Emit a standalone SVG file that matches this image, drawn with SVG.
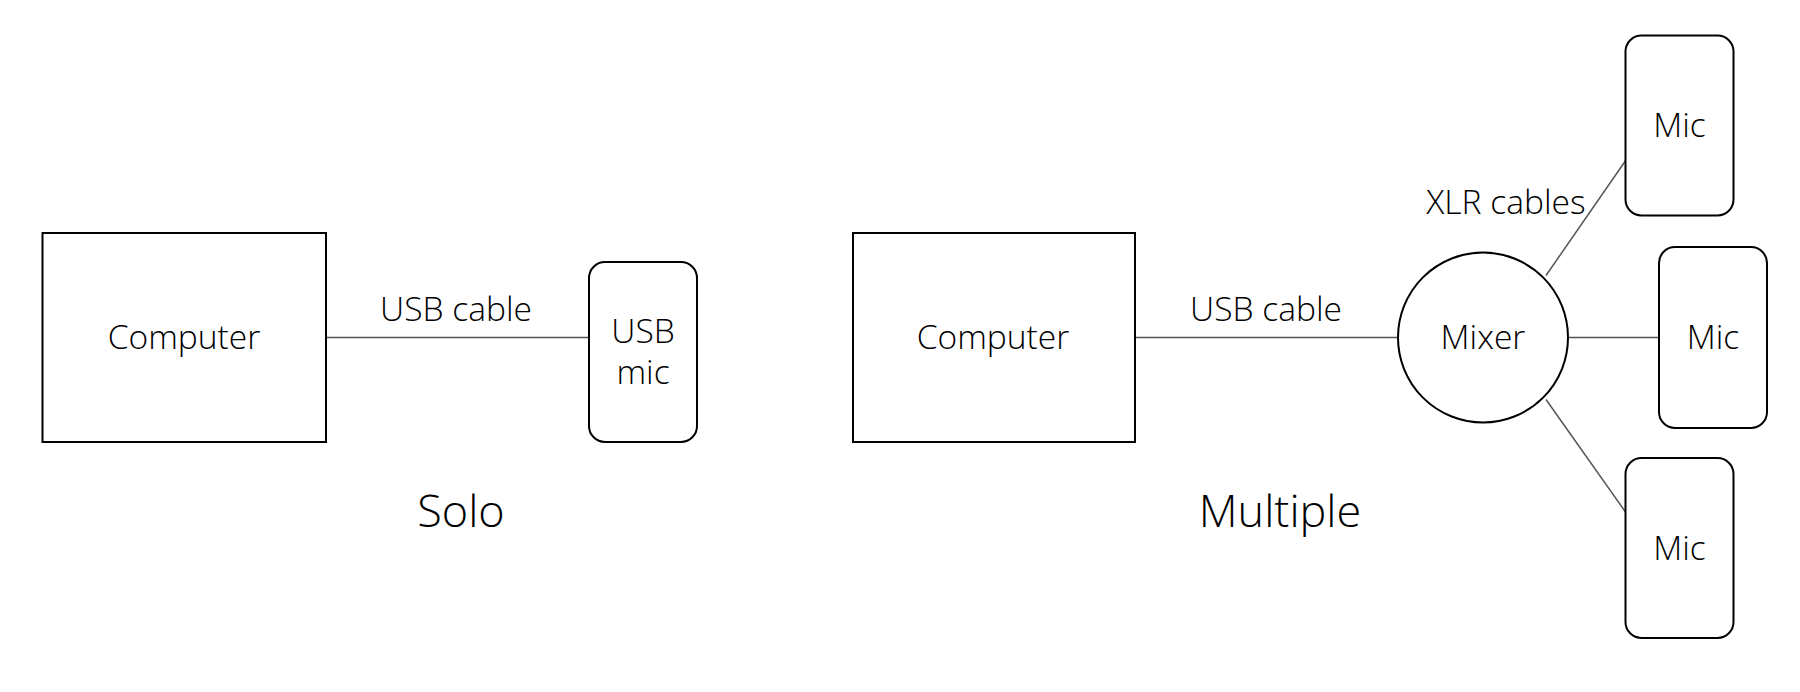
<svg xmlns="http://www.w3.org/2000/svg" width="1800" height="692" viewBox="0 0 1800 692">
<style>
.box{fill:#fff;stroke:#000;stroke-width:2}
.line{stroke:#555;stroke-width:1.5;fill:none}
text{font-family:"Open Sans","Liberation Sans",sans-serif;font-weight:300;fill:#000;text-anchor:middle}
.t{font-size:33.6px}
.h{font-size:45px}
</style>
<rect width="1800" height="692" fill="#fff"/>
<g id="connectors">
<line class="line" x1="326" y1="337.5" x2="589" y2="337.5"/>
<line class="line" x1="1135" y1="337.5" x2="1398" y2="337.5"/>
<line class="line" x1="1546" y1="275.5" x2="1625.5" y2="160.7"/>
<line class="line" x1="1568" y1="337.5" x2="1659" y2="337.5"/>
<line class="line" x1="1546" y1="399.5" x2="1625.5" y2="512"/>
<text class="t" x="456" y="321">USB cable</text>
<text class="t" x="1266" y="321">USB cable</text>
<text class="t" x="1506" y="214">XLR cables</text>
</g>
<g id="computer1"><rect class="box" x="42.5" y="233" width="283.5" height="209"/><text class="t" x="184" y="349">Computer</text></g>
<g id="usbmic"><rect class="box" x="589" y="262" width="108" height="180" rx="16"/><text class="t" x="643" y="343">USB</text><text class="t" x="643" y="384">mic</text></g>
<g id="computer2"><rect class="box" x="853" y="233" width="282" height="209"/><text class="t" x="993" y="349">Computer</text></g>
<g id="mixer"><circle class="box" cx="1483" cy="337.5" r="85"/><text class="t" x="1483" y="349">Mixer</text></g>
<g id="mic1"><rect class="box" x="1625.5" y="35.5" width="108" height="180" rx="16"/><text class="t" x="1679.5" y="137">Mic</text></g>
<g id="mic2"><rect class="box" x="1659" y="247" width="108" height="181" rx="16"/><text class="t" x="1713" y="349">Mic</text></g>
<g id="mic3"><rect class="box" x="1625.5" y="458" width="108" height="180" rx="16"/><text class="t" x="1679.5" y="560">Mic</text></g>
<g id="labels"><text class="h" x="461" y="527">Solo</text><text class="h" x="1280" y="527">Multiple</text></g>
</svg>
